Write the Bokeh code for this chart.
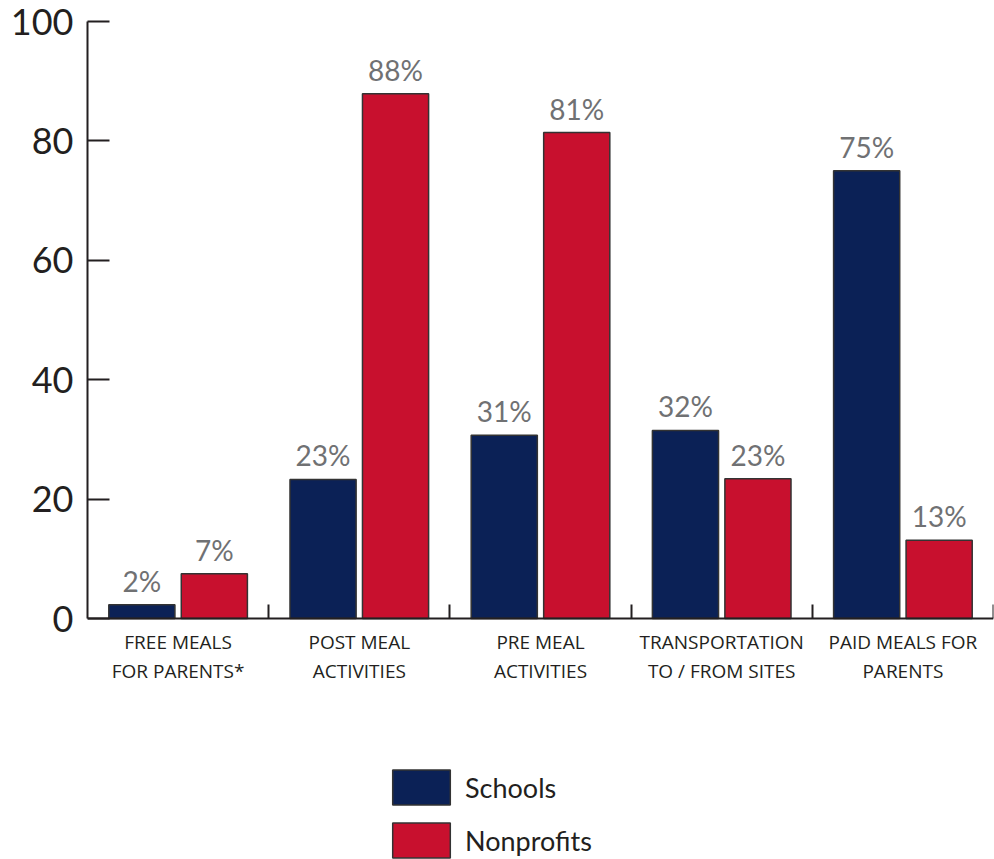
import numpy as np
from bokeh.plotting import figure
from bokeh.models import (ColumnDataSource, Range1d, FixedTicker, Legend, LegendItem)
from bokeh.transform import dodge
from bokeh.core.properties import value
from bokeh.embed import file_html
from bokeh.resources import INLINE

categories = ["FREE MEALS\nFOR PARENTS*", "POST MEAL\nACTIVITIES", "PRE MEAL\nACTIVITIES",
              "TRANSPORTATION\nTO / FROM SITES", "PAID MEALS FOR\nPARENTS"]
schools = [2.3, 23.3, 30.7, 31.5, 75.0]
nonprofits = [7.5, 87.9, 81.4, 23.4, 13.1]
schools_labels = ["2%", "23%", "31%", "32%", "75%"]
nonprofits_labels = ["7%", "88%", "81%", "23%", "13%"]
y_ticks = [0, 20, 40, 60, 80, 100]

NAVY = "#0b2156"
RED = "#c8102e"
INK = "#231f20"
GRAY = "#707173"

n = len(categories)
centers = list(np.arange(n) + 0.5)
boundaries = list(np.arange(1, n + 1).astype(float))

src = ColumnDataSource(dict(x=centers, s=schools, np_=nonprofits,
                            sl=schools_labels, nl=nonprofits_labels))

W, H = 994, 859
top_b, left_b = 21, 87
zero_px = 618
px_per_unit = (zero_px - top_b) / 100.0
ymin = -(H - zero_px) / px_per_unit

p = figure(width=W, height=H, output_backend="svg", toolbar_location=None,
           x_range=Range1d(0, n), y_range=Range1d(ymin, 100),
           min_border_left=left_b, min_border_right=1, min_border_top=top_b, min_border_bottom=0)
p.outline_line_color = None
p.xgrid.visible = False
p.ygrid.visible = False
p.background_fill_color = "white"
p.border_fill_color = "white"

r1 = p.vbar(x=dodge("x", -0.2, range=p.x_range), top="s", width=0.365, source=src,
            fill_color=NAVY, line_color="#333333", line_width=1.5)
r2 = p.vbar(x=dodge("x", 0.2, range=p.x_range), top="np_", width=0.365, source=src,
            fill_color=RED, line_color="#333333", line_width=1.5)

for col, lab, off in (("s", "sl", -0.2), ("np_", "nl", 0.2)):
    p.text(x=dodge("x", off, range=p.x_range), y=col, text=lab, source=src,
           text_align="center", text_baseline="bottom", y_offset=-7,
           text_font=value("Lato"), text_font_size="28px", text_color=GRAY)

# y axis
ya = p.yaxis[0]
ya.ticker = FixedTicker(ticks=y_ticks)
ya.bounds = (0, 100)
ya.major_tick_in = 22
ya.major_tick_out = 0
ya.minor_tick_in = 0
ya.minor_tick_out = 0
ya.axis_line_width = 2
ya.axis_line_color = INK
ya.major_tick_line_width = 2
ya.major_tick_line_color = INK
ya.major_label_text_font = "Lato"
ya.major_label_text_font_size = "36px"
ya.major_label_text_color = INK
ya.major_label_standoff = 14

# x axis (drawn at y = 0)
xa = p.xaxis[0]
xa.fixed_location = 0
xa.ticker = FixedTicker(ticks=centers, minor_ticks=boundaries)
xa.major_label_overrides = {c: lab for c, lab in zip(centers, categories)}
xa.major_tick_in = 0
xa.major_tick_out = 0
xa.minor_tick_in = 14
xa.minor_tick_out = 0
xa.minor_tick_line_width = 2
xa.minor_tick_line_color = INK
xa.axis_line_width = 2
xa.axis_line_color = INK
xa.major_label_text_font = "Open Sans"
xa.major_label_text_font_size = "19px"
xa.major_label_text_color = INK
xa.major_label_text_line_height = 1.15
xa.major_label_standoff = 10

legend = Legend(items=[LegendItem(label="Schools", renderers=[r1]),
                       LegendItem(label="Nonprofits", renderers=[r2])],
                location=(298, -3), orientation="vertical",
                glyph_width=72, glyph_height=44, spacing=9, padding=0, margin=0,
                label_standoff=8, label_text_font="Lato", label_text_font_size="27px",
                label_text_color=INK, border_line_alpha=0, background_fill_alpha=0)
p.add_layout(legend, "center")

open("out.html", "w").write(file_html(p, INLINE))
